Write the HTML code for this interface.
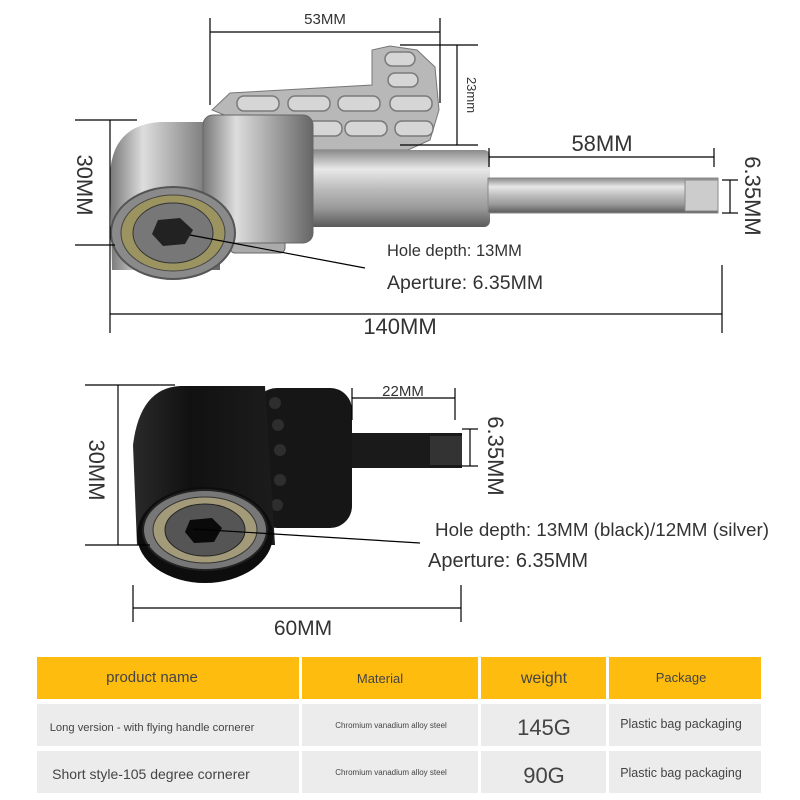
<!DOCTYPE html>
<html><head><meta charset="utf-8"><style>
html,body{margin:0;padding:0;background:#fff;}
svg{display:block;font-family:"Liberation Sans",sans-serif;}
</style></head><body>
<svg width="800" height="800" viewBox="0 0 800 800" xmlns="http://www.w3.org/2000/svg">
<defs>
<linearGradient id="sv" x1="0" y1="0" x2="0" y2="1">
<stop offset="0" stop-color="#8a8a8a"/><stop offset="0.25" stop-color="#e8e8e8"/><stop offset="0.5" stop-color="#bdbdbd"/><stop offset="0.75" stop-color="#9a9a9a"/><stop offset="1" stop-color="#5a5a5a"/>
</linearGradient>
<linearGradient id="svh" x1="0" y1="0" x2="1" y2="0">
<stop offset="0" stop-color="#777"/><stop offset="0.3" stop-color="#ddd"/><stop offset="0.6" stop-color="#aaa"/><stop offset="1" stop-color="#666"/>
</linearGradient>
<linearGradient id="bk" x1="0" y1="0" x2="1" y2="0">
<stop offset="0" stop-color="#2a2a2a"/><stop offset="0.4" stop-color="#111"/><stop offset="1" stop-color="#1c1c1c"/>
</linearGradient>
</defs>

<!-- silver tool -->
<polygon points="212,110 230,93 372,85 372,50 390,46 417,50 435,67 439,110 430,140 408,150 310,150" fill="#b8b8b8" stroke="#777"/>
<g fill="#d6d6d6" stroke="#7a7a7a" stroke-width="1.5">
<rect x="385" y="52" width="30" height="14" rx="7"/>
<rect x="388" y="73" width="30" height="14" rx="7"/>
<rect x="237" y="96" width="42" height="15" rx="7"/>
<rect x="288" y="96" width="42" height="15" rx="7"/>
<rect x="338" y="96" width="42" height="15" rx="7"/>
<rect x="390" y="96" width="42" height="15" rx="7"/>
<rect x="300" y="121" width="42" height="15" rx="7"/>
<rect x="345" y="121" width="42" height="15" rx="7"/>
<rect x="395" y="121" width="38" height="15" rx="7"/>
</g>
<rect x="230" y="225" width="55" height="28" rx="5" fill="#aaa" stroke="#666"/>
<rect x="300" y="150" width="190" height="77" rx="6" fill="url(#sv)"/>
<rect x="488" y="178" width="230" height="35" fill="url(#sv)" stroke="#888"/>
<rect x="685" y="180" width="33" height="31" fill="#ccc" stroke="#888"/>
<path d="M112,270 L110,175 Q112,125 160,122 L220,122 L220,270 Z" fill="url(#svh)"/>
<rect x="203" y="115" width="110" height="128" rx="10" fill="url(#svh)" stroke="#666"/>
<ellipse cx="173" cy="233" rx="62" ry="46" fill="#8a8a8a" stroke="#555" stroke-width="2"/>
<ellipse cx="173" cy="233" rx="52" ry="38" fill="#9b9460" stroke="#444"/>
<ellipse cx="173" cy="233" rx="40" ry="30" fill="#777" stroke="#333"/>
<polygon points="158,220 180,218 193,230 185,244 163,246 152,234" fill="#222"/>

<!-- black tool -->
<rect x="345" y="433" width="117" height="35" fill="#1a1a1a"/>
<rect x="430" y="436" width="32" height="29" fill="#333"/>
<rect x="255" y="388" width="97" height="140" rx="22" fill="#161616"/>
<g fill="#2e2e2e"><circle cx="275" cy="403" r="6"/><circle cx="278" cy="425" r="6"/><circle cx="280" cy="450" r="6"/><circle cx="280" cy="480" r="6"/><circle cx="277" cy="505" r="6"/></g>
<path d="M137,545 L133,445 Q140,388 180,386 L265,386 L275,545 Z" fill="url(#bk)"/>
<ellipse cx="205" cy="535" rx="68" ry="48" fill="#0d0d0d"/>
<ellipse cx="205" cy="530" rx="62" ry="40" fill="#777" stroke="#222" stroke-width="2"/>
<ellipse cx="205" cy="530" rx="52" ry="33" fill="#a29a78" stroke="#333"/>
<ellipse cx="205" cy="530" rx="40" ry="26" fill="#555" stroke="#222"/>
<polygon points="190,520 212,518 222,528 214,542 194,543 185,532" fill="#0a0a0a"/>

<!-- dimension lines -->
<g stroke="#000" stroke-width="1.2" fill="none">
<line x1="210" y1="32" x2="440" y2="32"/><line x1="210" y1="18" x2="210" y2="105"/><line x1="440" y1="18" x2="440" y2="103"/>
<line x1="457" y1="45" x2="457" y2="145"/><line x1="400" y1="45" x2="478" y2="45"/><line x1="400" y1="145" x2="478" y2="145"/>
<line x1="489" y1="157" x2="714" y2="157"/><line x1="489" y1="148" x2="489" y2="167"/><line x1="714" y1="148" x2="714" y2="167"/>
<line x1="730" y1="180" x2="730" y2="213"/><line x1="722" y1="180" x2="738" y2="180"/><line x1="722" y1="213" x2="738" y2="213"/>
<line x1="110" y1="120" x2="110" y2="333"/><line x1="75" y1="120" x2="137" y2="120"/><line x1="75" y1="245" x2="115" y2="245"/>
<line x1="110" y1="314" x2="722" y2="314"/><line x1="722" y1="265" x2="722" y2="333"/>
<line x1="190" y1="235" x2="365" y2="268"/>
<line x1="118" y1="385" x2="118" y2="545"/><line x1="85" y1="385" x2="175" y2="385"/><line x1="85" y1="545" x2="150" y2="545"/>
<line x1="352" y1="398" x2="455" y2="398"/><line x1="352" y1="388" x2="352" y2="420"/><line x1="455" y1="388" x2="455" y2="420"/>
<line x1="470" y1="429" x2="470" y2="466"/><line x1="462" y1="429" x2="478" y2="429"/><line x1="462" y1="466" x2="478" y2="466"/>
<line x1="193" y1="529" x2="420" y2="543"/>
<line x1="133" y1="608" x2="461" y2="608"/><line x1="133" y1="585" x2="133" y2="622"/><line x1="461" y1="585" x2="461" y2="622"/>
</g>

<g fill="#333">
<text x="325" y="24" font-size="15" text-anchor="middle">53MM</text>
<text transform="translate(467,95) rotate(90)" font-size="13" text-anchor="middle">23mm</text>
<text x="602" y="151" font-size="22" text-anchor="middle">58MM</text>
<text transform="translate(745,196) rotate(90)" font-size="22" text-anchor="middle">6.35MM</text>
<text transform="translate(77,185) rotate(90)" font-size="22" text-anchor="middle">30MM</text>
<text x="400" y="334" font-size="22" text-anchor="middle">140MM</text>
<text x="387" y="256" font-size="16.5">Hole depth: 13MM</text>
<text x="387" y="289" font-size="19.5">Aperture: 6.35MM</text>
<text x="403" y="396" font-size="15" text-anchor="middle">22MM</text>
<text transform="translate(488,456) rotate(90)" font-size="22" text-anchor="middle">6.35MM</text>
<text transform="translate(89,470) rotate(90)" font-size="22" text-anchor="middle">30MM</text>
<text x="435" y="536" font-size="18.8">Hole depth: 13MM (black)/12MM (silver)</text>
<text x="428" y="567" font-size="20">Aperture: 6.35MM</text>
<text x="303" y="635" font-size="21" text-anchor="middle">60MM</text>
</g>

<!-- table -->
<g fill="#FDBC0E">
<rect x="37" y="657" width="262" height="42"/><rect x="302" y="657" width="176" height="42"/><rect x="481" y="657" width="125" height="42"/><rect x="609" y="657" width="152" height="42"/>
</g>
<g fill="#ececec">
<rect x="37" y="704" width="262" height="42"/><rect x="302" y="704" width="176" height="42"/><rect x="481" y="704" width="125" height="42"/><rect x="609" y="704" width="152" height="42"/>
<rect x="37" y="751" width="262" height="42"/><rect x="302" y="751" width="176" height="42"/><rect x="481" y="751" width="125" height="42"/><rect x="609" y="751" width="152" height="42"/>
</g>
<g fill="#444" text-anchor="middle">
<text x="152" y="682" font-size="15">product name</text>
<text x="380" y="683" font-size="13">Material</text>
<text x="544" y="683" font-size="16">weight</text>
<text x="681" y="682" font-size="13">Package</text>
<text x="152" y="731" font-size="11.2">Long version - with flying handle cornerer</text>
<text x="391" y="728" font-size="8">Chromium vanadium alloy steel</text>
<text x="544" y="735" font-size="22">145G</text>
<text x="681" y="728" font-size="12.5">Plastic bag packaging</text>
<text x="151" y="779" font-size="14">Short style-105 degree cornerer</text>
<text x="391" y="775" font-size="8">Chromium vanadium alloy steel</text>
<text x="544" y="783" font-size="22">90G</text>
<text x="681" y="777" font-size="12.5">Plastic bag packaging</text>
</g>
</svg>
</body></html>
